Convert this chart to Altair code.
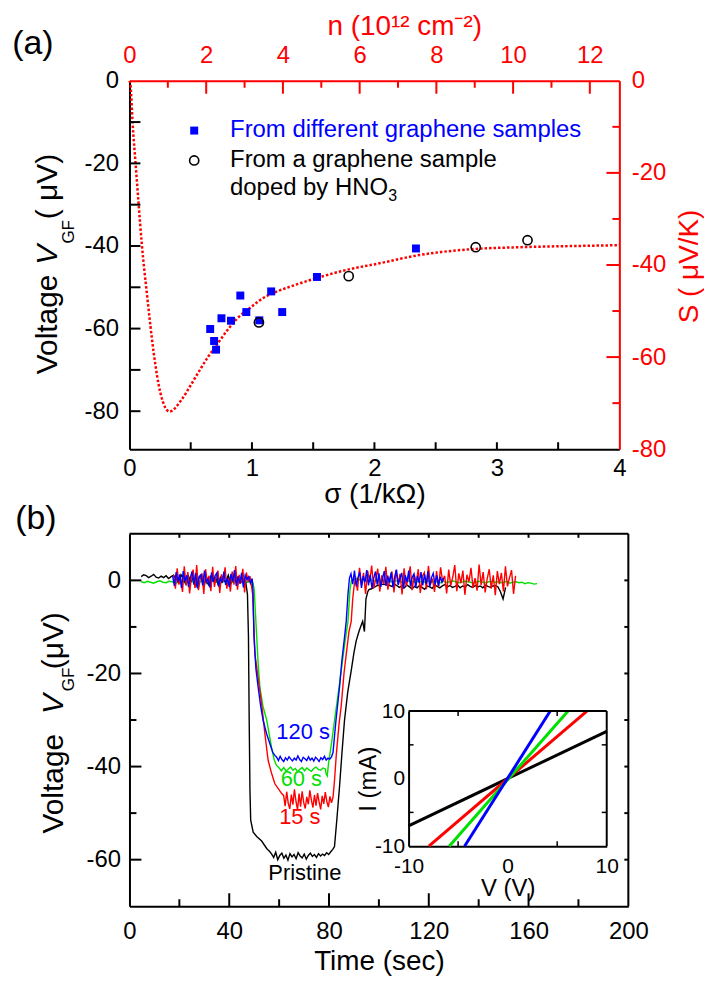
import altair as alt
import pandas as pd

FONT = "Liberation Sans"
RED = "#ff0000"
BLUE = "#0000ff"
GREEN = "#00e000"
BLACK = "#000000"

# ---------------- Panel (a) data ----------------
CURVE_SIGMA = [0.0, 0.01, 0.025, 0.05, 0.075, 0.10, 0.144, 0.198, 0.252, 0.327, 0.428, 0.496,
               0.577, 0.645, 0.713, 0.794, 0.875, 0.984, 1.092, 1.173, 1.336, 1.526, 1.77,
               2.04, 2.366, 2.83, 3.18, 3.83, 4.0]
CURVE_V = [0.0, -1.5, -10.0, -20.1, -30.0, -39.3, -52.0, -65.9, -75.5, -80.1, -77.1, -73.9,
           -69.9, -66.7, -63.9, -60.6, -57.7, -55.0, -52.6, -51.4, -49.6, -47.8, -45.8,
           -44.2, -42.2, -40.7, -40.3, -39.9, -39.8]
SQ_SIGMA = [0.659, 0.691, 0.707, 0.751, 0.829, 0.905, 0.954, 1.06, 1.157, 1.247, 1.531, 2.339]
SQ_V = [-60.1, -63.0, -65.1, -57.5, -58.1, -52.0, -56.0, -58.0, -51.0, -56.0, -47.5, -40.6]
CI_SIGMA = [1.057, 1.79, 2.827, 3.25]
CI_V = [-58.5, -47.3, -40.3, -38.6]
LEGEND_LABELS = ["From different graphene samples", "From a graphene sample", "doped by HNO"]

A_SIG_TICKS = [0.5, 1, 1.5, 2, 2.5, 3, 3.5]
A_V_TICKS = [-10, -20, -30, -40, -50, -60, -70, -80]
A_N_MAJOR = [2, 4, 6, 8, 10, 12]
A_N_MINOR = [1, 3, 5, 7, 9, 11]
A_S_MAJOR = [-20, -40, -60]
A_S_MINOR = [-10, -30, -50, -70]

# ---------------- Panel (b) data ----------------
K1 = [0.8, 1.2, 1.0, 0.6, 0.9, 1.3, 0.7, 0.5, 0.9, 0.6, 1.0, 0.4, 0.8, 1.1, 0.3, -0.5, 1.2, 0.2,
      -0.8, 0.9, -0.3, 0.6, -1.2, 0.4, 1.0, -0.6, 0.2, -0.9, 0.8, -0.2, 0.5, -1.0, 0.7, 0.1,
      -0.4, 1.1, -0.7, 0.3, -0.2, 0.6, -0.5, 0.2, -0.3]
K2_T = [47.3, 47.7, 48.0, 48.3, 48.6, 49.6, 51.0, 53.0, 55.0, 56.3]
K2_V = [-3, -12, -30, -45, -51.5, -54.1, -55, -56, -57.6, -58.3]
K3 = [-58.8, -59.5, -58.4, -60.0, -59.1, -58.6, -59.7, -59.0, -60.1, -58.7, -59.4, -58.9, -59.8,
      -58.5, -59.2, -59.6, -58.8, -59.9, -59.1, -58.6, -59.3, -58.9, -59.5, -58.7, -59.2, -58.8,
      -59.1, -58.5, -58.9, -58.3, -57.8]
K4_T = [82.2, 83.2, 84.2, 85.2, 86.2, 87.5, 88.9, 90.0, 90.9, 92.0, 93.0, 93.5, 94.2, 94.8, 95.5]
K4_V = [-57.2, -51, -44.4, -37, -30.1, -24, -19.4, -15.5, -13, -11, -9.5, -8.8, -11, -4, -2.5]
K5 = [-2.0, -1.8, -1.5, -1.2, -1.0, -0.8, -0.9, -0.7, -1.0, -1.3, -0.8, -1.1, -1.5, -1.2, -1.6,
      -1.0, -1.4, -1.8, -1.3, -1.6, -1.1, -1.5, -1.9, -1.2, -1.4, -1.7, -1.0, -1.3, -1.6, -1.2,
      -0.9, -1.4, -1.1, -1.5, -1.3, -1.0, -1.6, -1.2, -1.4, -0.9, -1.3, -1.5, -1.1, -1.4, -1.2,
      -1.6, -1.0, -1.3, -1.5, -1.2, -1.1, -1.4, -2.5, -4.0, -1.5]

R1 = [1.2, -1.8, 2.6, -0.9, 0.4, -2.5, 3.0, -1.1, 1.8, -2.8, 0.6, 2.3, -1.6, 3.3, -2.1, 0.3, 1.5,
      -2.9, 2.4, -0.5, 1.0, -2.3, 2.9, -1.4, 0.8, 2.1, -2.7, 1.3, -0.2, 2.8, -1.8, 0.5, -2.4, 1.9,
      -0.9, 3.1, -2.0, 1.2, -0.6, 2.5, -2.6, 1.7, -0.3, 0.9, -1.5]
R2_T = [49.4, 50.3, 51.6, 53.0, 54.3, 55.6, 57.0, 58.3, 60.0, 61.0]
R2_V = [-3, -15.9, -21, -26.6, -33, -38.7, -41.5, -43.7, -45, -45.8]
R3 = [-46.2, -48.5, -45.4, -47.9, -49.1, -46.0, -48.2, -44.9, -47.4, -49.3, -45.8, -48.6, -45.3,
      -47.7, -49.0, -46.5, -48.1, -45.1, -47.2, -48.8, -46.1, -48.4, -45.7, -47.6, -49.2, -46.3,
      -48.0, -45.5, -47.5, -48.7, -46.4, -47.8, -46.6]
R4_T = [82.2, 82.9, 84.0, 84.9, 86.0, 86.9, 88.0, 88.9, 89.5, 90.0]
R4_V = [-43, -37.6, -31, -26.9, -20, -15.9, -11, -8.8, -4, -1.5]
R5 = [0.8, -2.2, 2.7, -1.0, 1.6, -2.9, 2.1, -0.4, 3.2, -1.7, 0.3, 2.5, -2.4, 1.1, -0.8, 2.9, -2.0,
      0.6, 1.9, -2.6, 2.2, -0.7, 1.4, -3.0, 2.6, -1.2, 0.2, 3.0, -2.1, 1.3, -0.5, 2.4, -2.7, 0.9,
      1.7, -1.9, 3.1, -0.9, 0.4, -2.5, 2.0, -1.4, 2.8, -0.2, 1.0, -2.8, 2.3, -1.1, 0.7, 3.3, -2.3,
      1.5, -0.6, 2.1, -3.1, 1.2, -0.3, 2.7, -1.6, 0.5, -2.2, 3.4, -1.0, 1.8, -2.6, 0.4, 2.4, -1.8,
      1.1, -3.2, 2.0, -0.8, 1.6, -2.4, 3.0, -1.3, 0.6, 2.2, -2.9, 1.0]

B1 = [0.9, -1.2, 1.8, -0.4, 1.3, -1.6, 2.0, -0.2, 1.1, -1.4, 0.6, 1.9, -0.9, 1.5, -1.7, 0.8, 1.2,
      -1.1, 2.1, -0.5, 0.4, -1.5, 1.7, -0.3, 1.0, 1.6, -1.3, 0.7, -0.6, 1.9, -1.0, 0.5, -1.4, 1.4,
      -0.2, 2.2, -1.2, 0.9, -0.7, 1.6, -1.5, 1.1, 0.2, 0.8, -0.6, 0.4]
B2_T = [49.5, 49.9, 50.7, 51.6, 52.6, 53.6, 55.0, 56.3, 57.5, 58.3]
B2_V = [-2, -12, -19, -23, -27, -30.1, -33, -35.1, -37, -37.6]
B3 = [-38.0, -38.7, -37.8, -38.5, -38.9, -38.1, -38.6, -37.9, -38.4, -38.8, -38.2, -38.6, -37.7,
      -38.5, -38.9, -38.0, -38.3, -38.7, -37.9, -38.6, -38.2, -38.8, -38.0, -38.4, -38.9, -38.1,
      -38.5, -37.8, -38.6, -38.2, -38.4, -37.9]
B4_T = [81.6, 82.8, 84.2, 85.2, 86.2, 86.9, 87.6, 88.2]
B4_V = [-37, -30, -23, -17, -12.3, -8.8, -3, 0.5]
B5 = [1.4, -0.8, 2.1, -1.3, 0.6, 1.8, -1.6, 0.9, -0.4, 2.2, -1.1, 1.2, -1.7, 0.5, 1.9, -0.9, 1.5,
      -1.4, 0.3, 2.0, -1.2, 1.0, -0.6, 1.7, -1.5, 0.8, 2.3, -1.0, 0.4, 1.6, -1.8, 1.1, -0.3, 2.1,
      -1.3, 0.7, 1.4, -1.6, 0.9, -0.5, 1.8, -1.1, 1.3, -0.8, 2.0, -1.4, 0.6, 1.5, -0.9, 1.1, -1.2,
      0.8, -0.4, 0.5]

G1 = [-0.3, -0.5, -0.2, -0.4, -0.6, -0.3, -0.1, -0.4, -0.5, -0.2, -0.3, -0.6, -0.4, -0.2, -0.5,
      -0.3, -0.1, -0.4, -0.6, -0.3, -0.2, -0.5, -0.4, -0.1, -0.3, -0.6, -0.4, -0.2, -0.3, -0.5,
      -0.2, -0.4, -0.3, -0.1, -0.4, -0.3, -0.5]
G2_T = [50.0, 50.8, 51.6, 52.3, 53.5, 55.0, 56.0, 57.0, 58.0, 58.9]
G2_V = [-2, -10, -18, -23, -27, -30, -33, -36, -38.5, -39.7]
G3 = [-40.3, -40.9, -40.2, -41.0, -40.5, -40.1, -40.8, -40.4, -41.1, -40.6, -40.2, -40.9, -40.3,
      -40.7, -41.0, -40.4, -40.1, -40.6, -40.8, -40.3, -40.5]
G4_T = [78.8, 79.3, 79.8, 81.0, 82.2, 83.5, 84.9, 86.2, 87.6, 88.4, 89.0]
G4_V = [-41.5, -42.0, -39.3, -35, -30.1, -25, -19.4, -14, -8.8, -2, 0]
G5 = [0.2, 0.4, 0.1, 0.3, 0.0, -0.2, 0.1, -0.1, -0.3, 0.0, -0.2, -0.4, -0.1, -0.3, -0.2, 0.0, -0.3,
      -0.5, -0.2, -0.1, -0.4, -0.3, -0.2, -0.5, -0.3, -0.1, -0.4, -0.2, -0.3, -0.5, -0.2, -0.4,
      -0.3, -0.1, -0.3, -0.5, -0.4, -0.2, -0.3, -0.4, -0.6, -0.3, -0.2, -0.4, -0.5, -0.3, -0.2,
      -0.4, -0.3, -0.5, -0.4, -0.2, -0.6, -0.4, -0.3, -0.5, -0.4, -0.7, -0.5, -0.6, -0.8, -0.7]

TRACE_LABELS = ["120 s", "60 s", "15 s", "Pristine"]
TRACE_LABEL_T = [69.6, 68.9, 68.3, 70.3]
TRACE_LABEL_V = [-32.6, -42.6, -50.8, -62.9]
TRACE_LABEL_COLORS = [BLUE, GREEN, RED, BLACK]

# inset I-V lines (end points)
IV_BLACK_V = [-10, 10]; IV_BLACK_I = [-7.0, 7.0]
IV_RED_V = [-7.95, 8.0]; IV_RED_I = [-10, 10]
IV_GREEN_V = [-5.9, 6.1]; IV_GREEN_I = [-10, 10]
IV_BLUE_V = [-4.35, 4.3]; IV_BLUE_I = [-10, 10]

B_T_MAJOR = [40, 80, 120, 160]
B_T_MINOR = [20, 60, 100, 140, 180]
B_T_TOP = [20, 40, 60, 80, 100, 120, 140, 160, 180]
B_V_MAJOR = [-60, -40, -20, 0]
B_V_MINOR = [-50, -30, -10]
B_V_RIGHT = [-60, -50, -40, -30, -20, -10, 0]
INSET_TICKS = [-5, 5]


def span(t0, t1, vals):
    n = len(vals)
    return [t0 + (t1 - t0) * i / (n - 1) for i in range(n)], list(vals)


def build(parts):
    T, V = [], []
    for t, v in parts:
        T += list(t)
        V += list(v)
    return pd.DataFrame({"t": T, "v": V})


ONE = pd.DataFrame({"k": [0]})
LBL = "'' + datum.value"


def mk_axis(**kw):
    base = dict(labelExpr=LBL, labelFont=FONT, labelFontSize=24, labelColor=BLACK,
                labelOverlap=False, ticks=False, domain=True, domainColor=BLACK,
                domainWidth=2, grid=False, titleFont=FONT, titleFontSize=28,
                titleFontWeight="normal", titleColor=BLACK, titleBaseline="middle")
    base.update(kw)
    return alt.Axis(**base)


class Group:
    """Shared scales + shared axis definitions for a set of layers."""

    def __init__(self, xs, ys, xaxis, yaxis):
        self.xs, self.ys, self.xaxis, self.yaxis = xs, ys, xaxis, yaxis

    def X(self, f):
        return alt.X(f, scale=self.xs, axis=self.xaxis)

    def Y(self, f):
        return alt.Y(f, scale=self.ys, axis=self.yaxis)

    def XD(self, d):
        return alt.XDatum(d, scale=self.xs, axis=self.xaxis)

    def YD(self, d):
        return alt.YDatum(d, scale=self.ys, axis=self.yaxis)

    def xticks(self, values, edge, length, color, width=2):
        return alt.Chart(pd.DataFrame({"t": values})).mark_rule(
            color=color, strokeWidth=width, y2Offset=length).encode(
            x=self.X("t:Q"), y=self.YD(edge), y2=alt.Y2Datum(edge))

    def yticks(self, values, edge, length, color, width=2):
        return alt.Chart(pd.DataFrame({"t": values})).mark_rule(
            color=color, strokeWidth=width, x2Offset=length).encode(
            y=self.Y("t:Q"), x=self.XD(edge), x2=alt.X2Datum(edge))

    def hline(self, x0, x1, y, color=BLACK, width=2):
        return alt.Chart(ONE).mark_rule(color=color, strokeWidth=width).encode(
            x=self.XD(x0), x2=alt.X2Datum(x1), y=self.YD(y))

    def vline(self, x, y0, y1, color=BLACK, width=2):
        return alt.Chart(ONE).mark_rule(color=color, strokeWidth=width).encode(
            x=self.XD(x), y=self.YD(y0), y2=alt.Y2Datum(y1))


def txt(s, x, y, size, color=BLACK, angle=0, align="center", style="normal"):
    return alt.Chart(ONE).mark_text(
        text=s, font=FONT, fontSize=size, color=color, angle=angle, align=align,
        baseline="middle", fontStyle=style).encode(x=alt.value(x), y=alt.value(y))


# ================= Panel (a) =================
WA, HA = 492, 370
gA = Group(
    alt.Scale(domain=[0, 4], nice=False, zero=False),
    alt.Scale(domain=[-89.2, 0], nice=False, zero=False),
    mk_axis(values=[0, 1, 2, 3, 4], labelPadding=7, labelFlush=False, title="σ (1/kΩ)",
            titleX=246, titleY=46),
    mk_axis(values=[0, -20, -40, -60, -80], labelPadding=11, title=""),
)
gB = Group(
    alt.Scale(domain=[0, 12.77], nice=False, zero=False),
    alt.Scale(domain=[-80, 0], nice=False, zero=False),
    mk_axis(orient="top", values=[0] + A_N_MAJOR, labelColor=RED, labelPadding=13,
            labelFlush=False, domainColor=RED, title="n (10¹² cm⁻²)", titleColor=RED,
            titleX=276, titleY=-54),
    mk_axis(orient="right", values=[0, -20, -40, -60, -80], labelColor=RED, labelPadding=12,
            domainColor=RED, title="S ( μV/K)", titleColor=RED, titleAngle=270, titleX=70,
            titleY=186),
)

df_curve = pd.DataFrame({"s": CURVE_SIGMA, "v": CURVE_V})
df_sq = pd.DataFrame({"s": SQ_SIGMA, "v": SQ_V})
df_ci = pd.DataFrame({"s": CI_SIGMA, "v": CI_V})

curve = alt.Chart(df_curve).mark_line(color=RED, strokeWidth=2.5, strokeDash=[2.5, 2],
                                      interpolate="monotone").encode(
    x=gA.X("s:Q"), y=gA.Y("v:Q"))
squares = alt.Chart(df_sq).mark_square(size=64, color=BLUE, opacity=1).encode(
    x=gA.X("s:Q"), y=gA.Y("v:Q"))
circles = alt.Chart(df_ci).mark_point(shape="circle", size=85, filled=False, color=BLACK,
                                      strokeWidth=1.6, opacity=1).encode(
    x=gA.X("s:Q"), y=gA.Y("v:Q"))

leg_sq = alt.Chart(ONE).mark_square(size=64, color=BLUE, opacity=1).encode(
    x=alt.value(65), y=alt.value(50))
leg_ci = alt.Chart(ONE).mark_point(shape="circle", size=85, filled=False, color=BLACK,
                                   strokeWidth=1.6, opacity=1).encode(
    x=alt.value(65), y=alt.value(80))

groupA_a = alt.layer(
    curve, squares, circles,
    gA.xticks(A_SIG_TICKS, -89.2, -7, BLACK),
    gA.yticks(A_V_TICKS, 0, 11, BLACK),
    leg_sq, leg_ci,
    txt(LEGEND_LABELS[0], 101, 49, 24, BLUE, align="left"),
    txt(LEGEND_LABELS[1], 101, 80, 24, BLACK, align="left"),
    txt(LEGEND_LABELS[2], 101, 108, 24, BLACK, align="left"),
    txt("3", 260, 116, 16, BLACK, align="left"),
    txt("(a)", -97, -37, 34),
    txt("Voltage", -82, 294.7, 30, angle=270, align="left"),
    txt("V", -82, 184.7, 30, angle=270, align="left", style="italic"),
    txt("GF", -61, 163.5, 17, angle=270, align="left"),
    txt("( μV)", -82, 139, 30, angle=270, align="left"),
)
groupB_a = alt.layer(
    gB.xticks(A_N_MAJOR, 0, 13, RED),
    gB.xticks(A_N_MINOR, 0, 7, RED),
    gB.yticks(A_S_MAJOR, 12.77, -13, RED),
    gB.yticks(A_S_MINOR, 12.77, -7, RED),
)
panel_a = alt.layer(groupA_a, groupB_a).resolve_scale(
    x="independent", y="independent").properties(width=WA, height=HA)

# ================= Panel (b) =================
WB, HB = 501, 374
gT = Group(
    alt.Scale(domain=[0, 200], nice=False, zero=False),
    alt.Scale(domain=[-70, 10], nice=False, zero=False),
    mk_axis(values=[0, 40, 80, 120, 160, 200], labelPadding=13, labelFlush=False,
            title="Time (sec)", titleX=250.5, titleY=56),
    mk_axis(values=[0, -20, -40, -60], labelPadding=9, title=""),
)
gI = Group(
    alt.Scale(domain=[-10, 10], range=[280.3, 479.3], nice=False, zero=False),
    alt.Scale(domain=[-10, 10], range=[313.7, 178], nice=False, zero=False),
    mk_axis(orient="bottom", offset=-60.3, values=[-10, 0, 10], labelFontSize=21,
            labelPadding=9, labelFlush=False, title="V (V)", titleFontSize=24,
            titleX=379.8, titleY=43),
    mk_axis(orient="left", offset=-280.3, values=[-10, 0, 10], labelFontSize=21,
            labelPadding=4, title="I (mA)", titleFontSize=24, titleAngle=270, titleX=-40,
            titleY=245.9),
)

df_black = build([span(4.7, 46.6, K1), (K2_T, K2_V), span(57.0, 81.5, K3), (K4_T, K4_V),
                  span(96.0, 150.8, K5)])
df_red = build([span(17.7, 49.0, R1), (R2_T, R2_V), span(61.8, 81.6, R3), (R4_T, R4_V),
                span(90.6, 154.8, R5)])
df_blue = build([span(17.3, 49.2, B1), (B2_T, B2_V), span(59.0, 81.0, B3), (B4_T, B4_V),
                 span(88.8, 126.0, B5)])
df_green = build([span(4.7, 49.5, G1), (G2_T, G2_V), span(60.0, 78.5, G3), (G4_T, G4_V),
                  span(89.6, 163.4, G5)])


def trace(df, color):
    return alt.Chart(df).mark_line(color=color, strokeWidth=1.4).encode(
        x=gT.X("t:Q"), y=gT.Y("v:Q"))


df_lab = pd.DataFrame({"text": TRACE_LABELS, "t": TRACE_LABEL_T, "v": TRACE_LABEL_V,
                       "c": TRACE_LABEL_COLORS})
labels_b = alt.Chart(df_lab).mark_text(font=FONT, fontSize=22, align="center",
                                       baseline="middle").encode(
    x=gT.X("t:Q"), y=gT.Y("v:Q"), text="text:N", color=alt.Color("c:N", scale=None))

groupA_b = alt.layer(
    trace(df_green, GREEN), trace(df_black, BLACK), trace(df_red, RED),
    trace(df_blue, BLUE), labels_b,
    gT.xticks(B_T_MAJOR, -70, -13, BLACK),
    gT.xticks(B_T_MINOR, -70, -7, BLACK),
    gT.xticks(B_T_TOP, 10, 4, BLACK),
    gT.yticks(B_V_MAJOR, 0, 12, BLACK),
    gT.yticks(B_V_MINOR, 0, 7, BLACK),
    gT.yticks(B_V_RIGHT, 200, -4, BLACK),
    gT.hline(0, 200, 10), gT.vline(200, -70, 10),
    txt("(b)", -94, -15, 34),
    txt("Voltage", -76, 301, 30, angle=270, align="left"),
    txt("V", -76, 181, 30, angle=270, align="left", style="italic"),
    txt("GF", -61, 158, 17, angle=270, align="left"),
    txt("(μV)", -76, 136, 30, angle=270, align="left"),
)


def ivline(vv, ii, color):
    return alt.Chart(pd.DataFrame({"V": vv, "I": ii})).mark_line(
        color=color, strokeWidth=3).encode(x=gI.X("V:Q"), y=gI.Y("I:Q"))


groupC_b = alt.layer(
    ivline(IV_BLACK_V, IV_BLACK_I, BLACK),
    ivline(IV_RED_V, IV_RED_I, RED),
    ivline(IV_GREEN_V, IV_GREEN_I, GREEN),
    ivline(IV_BLUE_V, IV_BLUE_I, BLUE),
    gI.xticks(INSET_TICKS, -10, -5, BLACK, width=1.5),
    gI.xticks(INSET_TICKS, 10, 5, BLACK, width=1.5),
    gI.yticks(INSET_TICKS, -10, 5, BLACK, width=1.5),
    gI.yticks(INSET_TICKS, 10, -5, BLACK, width=1.5),
    gI.hline(-10, 10, 10), gI.vline(10, -10, 10),
)
panel_b = alt.layer(groupA_b, groupC_b).resolve_scale(
    x="independent", y="independent").properties(width=WB, height=HB)

chart = alt.vconcat(panel_a, panel_b, spacing=85, bounds="flush").properties(
    padding={"left": 3, "top": 2, "right": 0, "bottom": 0}
).configure_view(stroke=None).configure(font=FONT)

chart.save("out.html", embed_options={"renderer": "svg", "actions": False})
